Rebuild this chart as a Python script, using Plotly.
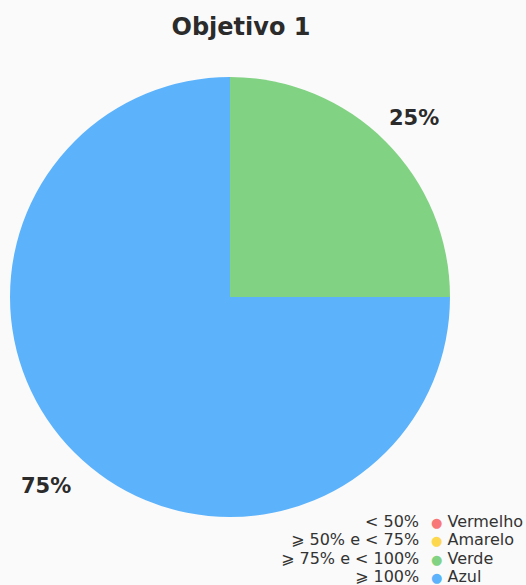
import math
import plotly.graph_objects as go

labels = ["Vermelho", "Amarelo", "Verde", "Azul"]
values = [0, 0, 25, 75]
colors = ["#f87878", "#fdd84f", "#81d283", "#5cb3fb"]
ranges = ["< 50%", "⩾ 50% e < 75%", "⩾ 75% e < 100%", "⩾ 100%"]

W, H = 526, 585
font_family = "DejaVu Sans, sans-serif"

# pie geometry (pixels)
cx, cy, rad = 230, 297, 220
label_r = 260

fig = go.Figure()
fig.add_trace(go.Pie(
    labels=labels,
    values=values,
    marker=dict(colors=colors, line=dict(width=0)),
    sort=False,
    direction="clockwise",
    textinfo="none",
    domain=dict(x=[(cx - rad) / W, (cx + rad) / W],
                y=[1 - (cy + rad) / H, 1 - (cy - rad) / H]),
    hoverinfo="label+percent",
    showlegend=False,
))

annotations = []

# percent labels outside each non-empty slice, at the slice's mid angle
total = sum(values)
cum = 0
for v in values:
    if v > 0:
        mid = (cum + v / 2) / total * 2 * math.pi
        px = cx + label_r * math.sin(mid)
        py = cy - label_r * math.cos(mid) + 5
        annotations.append(dict(
            text=f"<b>{round(v / total * 100)}%</b>", x=px / W, y=1 - py / H,
            xref="paper", yref="paper", xanchor="center", yanchor="middle",
            showarrow=False, font=dict(size=21, color="#2b2b2b", family=font_family),
        ))
    cum += v

# legend drawn as text: range on the left, coloured dot + name on the right
for i, (r, lab, col) in enumerate(zip(ranges, labels, colors)):
    y = 1 - (521 + i * 18.5) / H
    annotations.append(dict(
        text=r, x=421 / W, y=y,
        xref="paper", yref="paper", xanchor="right", yanchor="middle",
        showarrow=False, font=dict(size=16, color="#333333", family=font_family),
    ))
    annotations.append(dict(
        text=f"<span style='color:{col};font-size:13px'>●</span> {lab}",
        x=429 / W, y=y,
        xref="paper", yref="paper", xanchor="left", yanchor="middle",
        showarrow=False, font=dict(size=16, color="#333333", family=font_family),
    ))

fig.update_layout(
    width=W, height=H,
    margin=dict(l=0, r=0, t=0, b=0),
    paper_bgcolor="#fafafa",
    plot_bgcolor="#fafafa",
    title=dict(text="<b>Objetivo 1</b>", x=241 / W, xanchor="center",
               y=1 - 27 / H, yanchor="middle",
               font=dict(size=24, color="#2b2b2b", family=font_family)),
    showlegend=False,
    annotations=annotations,
)

fig.write_html("out.html", config={"displayModeBar": False},
               post_script="document.body.style.margin='0';")
